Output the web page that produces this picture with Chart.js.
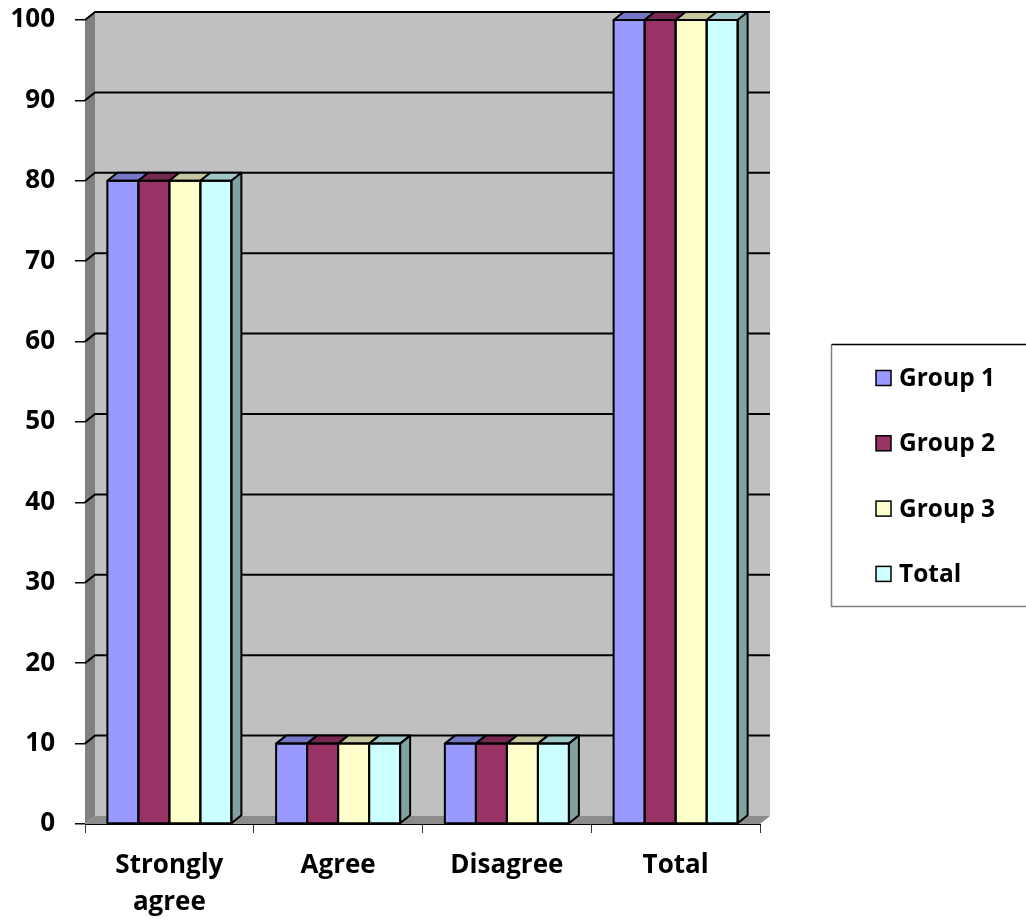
<!doctype html>
<html lang="en">
<head>
<meta charset="utf-8">
<title>Survey responses by group</title>
<style>
  html,body{margin:0;padding:0;background:#fff}
  .wrap{width:1026px;height:919px;position:relative}
</style>
</head>
<body>
<div class="wrap"><canvas id="chart" width="1026" height="919"></canvas></div>

<script src="https://cdn.jsdelivr.net/npm/chart.js"></script>
<script>
// answers per group, in percent
const categories  = [['Strongly', 'agree'], 'Agree', 'Disagree', 'Total'];
const seriesNames = ['Group 1', 'Group 2', 'Group 3', 'Total'];
const group1 = [80, 10, 10, 100];
const group2 = [80, 10, 10, 100];
const group3 = [80, 10, 10, 100];
const total  = [80, 10, 10, 100];
const Y_MIN = 0, Y_MAX = 100, Y_STEP = 10;

const COLORS = ['#9999ff', '#993366', '#ffffcc', '#ccffff'];
const FONT = '"Open Sans", Lato, sans-serif';
const DX = 10, DY = -8;   // depth of the fake 3d box

function shade(hex, f){
  const n = parseInt(hex.slice(1), 16);
  const r = (n >> 16) & 255, g = (n >> 8) & 255, b = n & 255;
  return `rgb(${Math.round(r*f)},${Math.round(g*f)},${Math.round(b*f)})`;
}
function poly(ctx, pts, fill, stroke){
  ctx.beginPath();
  ctx.moveTo(pts[0][0], pts[0][1]);
  for(let i = 1; i < pts.length; i++) ctx.lineTo(pts[i][0], pts[i][1]);
  ctx.closePath();
  ctx.fillStyle = fill; ctx.fill();
  if(stroke){ ctx.strokeStyle = stroke; ctx.stroke(); }
}

// walls, floor, back gridlines, bar tops/sides and the boxed legend
const box3d = {
  id: 'box3d',
  beforeDraw(c){
    const {ctx, chartArea: a, scales: {y}} = c;
    ctx.save();
    ctx.fillStyle = '#c0c0c0';
    ctx.fillRect(a.left + DX, a.top + DY, a.right - a.left, a.bottom - a.top);
    poly(ctx, [[a.left, a.top], [a.left + DX, a.top + DY], [a.left + DX, a.bottom + DY], [a.left, a.bottom]], '#808080');
    poly(ctx, [[a.left, a.bottom], [a.left + DX, a.bottom + DY], [a.right + DX, a.bottom + DY], [a.right, a.bottom]], '#8c8c8c');
    ctx.strokeStyle = '#000'; ctx.lineWidth = 2;
    y.ticks.forEach(t => {
      if(t.value === Y_MIN) return;
      const py = y.getPixelForValue(t.value);
      ctx.beginPath();
      ctx.moveTo(a.left, py);
      ctx.lineTo(a.left + DX, py + DY);
      ctx.lineTo(a.right + DX, py + DY);
      ctx.stroke();
    });
    ctx.restore();
  },
  afterDatasetsDraw(c){
    const {ctx} = c;
    const last = c.data.datasets.length - 1;
    ctx.save();
    ctx.lineWidth = 2; ctx.lineJoin = 'round';
    c.data.datasets.forEach((ds, i) => {
      c.getDatasetMeta(i).data.forEach(bar => {
        const {x, y: top, base, width} = bar.getProps(['x', 'y', 'base', 'width'], true);
        const x0 = x - width/2, x1 = x + width/2;
        poly(ctx, [[x0, top], [x0 + DX, top + DY], [x1 + DX, top + DY], [x1, top]], shade(ds.backgroundColor, 0.78), '#000');
        if(i === last)
          poly(ctx, [[x1, top], [x1 + DX, top + DY], [x1 + DX, base + DY], [x1, base]], shade(ds.backgroundColor, 0.63), '#000');
        ctx.strokeStyle = '#000';
        ctx.strokeRect(x0, top, width, base - top);
      });
    });
    ctx.restore();
  },
  afterDraw(c){
    const {ctx} = c;
    const L = {left: 831.5, top: 344.5, right: 1030, bottom: 606.5, first: 378, step: 65.3, sq: 15};
    ctx.save();
    ctx.lineWidth = 1.5;
    ctx.strokeStyle = '#808080';
    ctx.beginPath();
    ctx.moveTo(L.left, L.top); ctx.lineTo(L.left, L.bottom); ctx.lineTo(L.right, L.bottom);
    ctx.stroke();
    ctx.strokeStyle = '#000';
    ctx.beginPath();
    ctx.moveTo(L.left, L.top); ctx.lineTo(L.right, L.top);
    ctx.stroke();
    ctx.font = 'bold 24.5px ' + FONT;
    ctx.textBaseline = 'middle';
    c.data.datasets.forEach((ds, i) => {
      const cy = L.first + i * L.step;
      ctx.fillStyle = ds.backgroundColor;
      ctx.fillRect(876, cy - L.sq/2, L.sq, L.sq);
      ctx.strokeStyle = '#000'; ctx.lineWidth = 1.5;
      ctx.strokeRect(876, cy - L.sq/2, L.sq, L.sq);
      ctx.fillStyle = '#000';
      ctx.fillText(ds.label, 899, cy + 1);
    });
    ctx.restore();
  }
};

const series = [group1, group2, group3, total];

new Chart(document.getElementById('chart'), {
  type: 'bar',
  data: {
    labels: categories,
    datasets: series.map((d, i) => ({
      label: seriesNames[i],
      data: d,
      backgroundColor: COLORS[i],
      borderWidth: 0,
      categoryPercentage: 0.735,
      barPercentage: 1
    }))
  },
  options: {
    responsive: false,
    animation: false,
    layout: {padding: {top: 20, right: 266, left: 0, bottom: 0}},
    plugins: {legend: {display: false}, tooltip: {enabled: false}},
    scales: {
      x: {
        afterFit(s){ s.height = 95; s.paddingLeft = 0; s.paddingRight = 0; },
        border: {display: true, color: '#000', width: 1},
        grid: {drawOnChartArea: false, drawTicks: true, tickLength: 9, color: '#333', offset: true},
        ticks: {color: '#000', padding: 14, font: {family: FONT, size: 26, weight: 'bold', lineHeight: 1.42}, maxRotation: 0}
      },
      y: {
        min: Y_MIN, max: Y_MAX,
        afterFit(s){ s.width = 85; s.paddingTop = 0; s.paddingBottom = 0; },
        border: {display: false},
        grid: {drawOnChartArea: false, drawTicks: true, tickLength: 10, color: '#000', lineWidth: 1.5},
        ticks: {stepSize: Y_STEP, color: '#000', padding: 20, font: {family: FONT, size: 26, weight: 'bold'}}
      }
    }
  },
  plugins: [box3d]
});
</script>
</body>
</html>
